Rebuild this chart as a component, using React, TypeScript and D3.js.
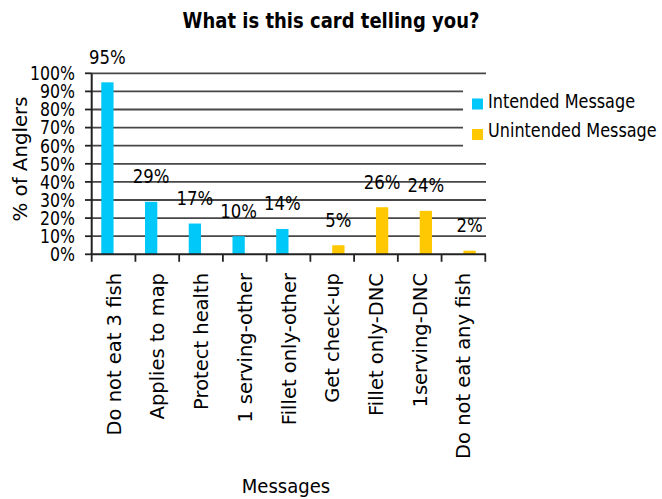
import React from "react";
import * as d3 from "d3";

const categories = [
  "Do not eat 3 fish",
  "Applies to map",
  "Protect health",
  "1 serving-other",
  "Fillet only-other",
  "Get check-up",
  "Fillet only-DNC",
  "1serving-DNC",
  "Do not eat any fish",
];
const seriesNames = ["Intended Message", "Unintended Message"];
const intended: (number | null)[] = [95, 29, 17, 10, 14, null, null, null, null];
const unintended: (number | null)[] = [null, null, null, null, null, 5, 26, 24, 2];
const yTicks = [0, 10, 20, 30, 40, 50, 60, 70, 80, 90, 100];
const colors = ["#00C8F8", "#FFC800"];
const title = "What is this card telling you?";
const yTitle = "% of Anglers";
const xTitle = "Messages";

const FONT = "'DejaVu Sans', Verdana, sans-serif";

function HText(props: {
  x: number; y: number; size: number; sx: number; sy?: number; anchor?: string; weight?: string; dy?: string; children: React.ReactNode;
}) {
  const { x, y, size, sx, sy = 1.06, anchor = "start", weight = "normal", dy, children } = props;
  return (
    <text
      transform={`translate(${x},${y}) scale(${sx},${sy})`}
      textAnchor={anchor}
      fontSize={size}
      fontWeight={weight}
      fontFamily={FONT}
      fill="#000"
      dy={dy}
    >
      {children}
    </text>
  );
}

export default function App() {
  const W = 662, H = 499;
  const left = 91.7, right = 485.3, top = 73.3, bottom = 254.3;
  const x = d3.scaleBand<string>().domain(categories).range([left, right]).padding(0);
  const xs = d3.scaleBand<string>().domain(seriesNames).range([0, x.bandwidth()]).paddingInner(0).paddingOuter(0.78);
  const y = d3.scaleLinear().domain([0, 100]).range([bottom, top]);
  const seriesVals = [intended, unintended];

  const bars: React.ReactNode[] = [];
  const labels: React.ReactNode[] = [];
  seriesVals.forEach((vals, si) => {
    vals.forEach((v, i) => {
      if (v == null) return;
      const bx = (x(categories[i]) as number) + (xs(seriesNames[si]) as number);
      const bw = xs.bandwidth();
      bars.push(
        <rect key={`b${si}-${i}`} x={bx} y={y(v)} width={bw} height={y(0) - y(v)} fill={colors[si]} />
      );
      labels.push(
        <HText key={`l${si}-${i}`} x={bx + bw / 2} y={y(v) - 18.5} size={18} sx={0.918} anchor="middle">
          {`${v}%`}
        </HText>
      );
    });
  });

  const boundaries = [...categories.map((c) => x(c) as number), right];

  return (
    <svg width={W} height={H} style={{ position: "absolute", left: 0, top: 0, background: "#fff" }}>
      <rect x={0} y={0} width={W} height={H} fill="#fff" />
      {yTicks.filter((t) => t > 0).map((t) => (
        <line key={`g${t}`} x1={left} x2={486} y1={y(t)} y2={y(t)} stroke="#474747" strokeWidth={1.8} />
      ))}
      <rect x={463} y={80} width={199} height={77} fill="#fff" />
      {bars}
      <line x1={left} x2={left} y1={top} y2={bottom} stroke="#222" strokeWidth={2} />
      <line x1={left} x2={486} y1={bottom} y2={bottom} stroke="#222" strokeWidth={2} />
      {yTicks.map((t) => (
        <line key={`yt${t}`} x1={85} x2={left} y1={y(t)} y2={y(t)} stroke="#222" strokeWidth={1.8} />
      ))}
      {boundaries.map((bx, i) => (
        <line key={`xt${i}`} x1={bx} x2={bx} y1={bottom} y2={bottom + 7.5} stroke="#222" strokeWidth={1.8} />
      ))}
      {yTicks.map((t) => (
        <HText key={`yl${t}`} x={75} y={y(t)} size={18} sx={0.875} anchor="end" dy="0.36em">
          {`${t}%`}
        </HText>
      ))}
      {labels}
      {categories.map((c) => (
        <text
          key={`xl${c}`}
          transform={`translate(${(x(c) as number) + x.bandwidth() / 2},273) rotate(-90)`}
          textAnchor="end"
          dy="0.36em"
          fontSize={19.5}
          fontFamily={FONT}
          fill="#000"
        >
          {c}
        </text>
      ))}
      <text
        transform="translate(20,159) rotate(-90)"
        textAnchor="middle"
        dy="0.36em"
        fontSize={19.75}
        fontFamily={FONT}
        fill="#000"
      >
        {yTitle}
      </text>
      <HText x={286} y={493} size={19} sx={0.95} anchor="middle">{xTitle}</HText>
      <HText x={331} y={28} size={20} sx={0.9} anchor="middle" weight="bold">{title}</HText>
      {seriesNames.map((s, i) => (
        <g key={`lg${s}`}>
          <rect x={472} y={98.5 + i * 30.5} width={11} height={11} fill={colors[i]} />
          <HText x={488} y={108 + i * 29} size={18} sx={0.893}>{s}</HText>
        </g>
      ))}
    </svg>
  );
}
